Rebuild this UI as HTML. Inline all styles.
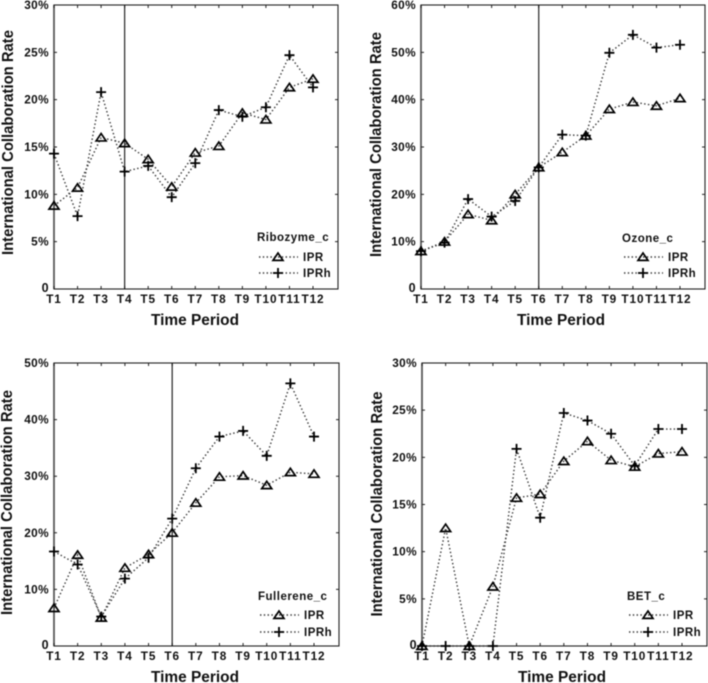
<!DOCTYPE html>
<html lang="en">
<head>
<meta charset="utf-8">
<title>International Collaboration Rate charts</title>
<style>
html,body{margin:0;padding:0;background:#fff;width:708px;height:683px;overflow:hidden}
svg{display:block;filter:blur(.4px)}
text{font-family:"Liberation Sans",sans-serif;font-weight:bold;fill:#111}
</style>
</head>
<body>
<svg id="figure" width="708" height="683" viewBox="0 0 708 683" xmlns="http://www.w3.org/2000/svg"></svg>
<script>
const periods = ["T1","T2","T3","T4","T5","T6","T7","T8","T9","T10","T11","T12"];

const ribozymeIPR  = [8.8,10.7,16,15.4,13.7,10.8,14.4,15.1,18.6,17.9,21.3,22.2];
const ribozymeIPRh = [14.3,7.7,20.8,12.4,13,9.7,13.3,18.9,18.2,19.2,24.7,21.3];
const ribozymeTicks = [0,5,10,15,20,25,30];

const ozoneIPR  = [8,10,15.8,14.5,20,25.7,28.9,32.4,38,39.5,38.7,40.3];
const ozoneIPRh = [8,9.8,19,15.3,18.6,25.7,32.6,32.4,49.9,53.7,51,51.6];
const ozoneTicks = [0,10,20,30,40,50,60];

const fullereneIPR  = [6.7,16.1,5,13.8,16.2,20,25.3,29.9,30.1,28.4,30.7,30.4];
const fullereneIPRh = [16.7,14.4,5.2,11.9,15.6,22.5,31.4,37,38,33.6,46.4,37];
const fullereneTicks = [0,10,20,30,40,50];

const betIPR  = [0,12.5,0,6.3,15.7,16.1,19.6,21.7,19.7,19,20.4,20.6];
const betIPRh = [0,0,0,0,20.9,13.6,24.7,23.9,22.5,19.1,23,23];
const betTicks = [0,5,10,15,20,25,30];

const panels = [
  {name:"ribozyme", title:"Ribozyme_c", ipr:ribozymeIPR, iprh:ribozymeIPRh, ticks:ribozymeTicks, split:3,
   left:54, right:338, top:5, bottom:289, x0:54, x11:313, titleX:13, titleMid:142.5, xTitleX:195, xTitleY:325,
   legX:257, legY:241, row1:257, row2:273},
  {name:"ozone", title:"Ozone_c", ipr:ozoneIPR, iprh:ozoneIPRh, ticks:ozoneTicks, split:5,
   left:421, right:705, top:5, bottom:289, x0:421, x11:680, titleX:381, titleMid:144.5, xTitleX:561, xTitleY:325,
   legX:622, legY:242, row1:257, row2:273},
  {name:"fullerene", title:"Fullerene_c", ipr:fullereneIPR, iprh:fullereneIPRh, ticks:fullereneTicks, split:5,
   left:54, right:339, top:363, bottom:646, x0:54, x11:314, titleX:12, titleMid:502.5, xTitleX:195, xTitleY:682,
   legX:258, legY:600, row1:615, row2:632},
  {name:"bet", title:"BET_c", ipr:betIPR, iprh:betIPRh, ticks:betTicks, split:null,
   left:422, right:707, top:363, bottom:646, x0:422, x11:682, titleX:382, titleMid:504, xTitleX:562, xTitleY:682,
   legX:627, legY:600, row1:615, row2:632}
];

const svg = document.getElementById("figure");
const NS = "http://www.w3.org/2000/svg";

function make(tag, attrs, parent, text){
  const el = document.createElementNS(NS, tag);
  for (const k in attrs) el.setAttribute(k, attrs[k]);
  if (text !== undefined) el.textContent = text;
  parent.appendChild(el);
  return el;
}

function triangle(cx, cy, parent, name){
  const el = make("path", {d:`M${cx-5} ${cy+3.4}L${cx} ${cy-4}L${cx+5} ${cy+3.4}Z`, fill:"none", stroke:"#000", "stroke-width":1.7}, parent);
  
  
}

function plus(cx, cy, parent, name){
  const el = make("path", {d:`M${cx-5} ${cy}H${cx+5}M${cx} ${cy-5}V${cy+5}`, fill:"none", stroke:"#000", "stroke-width":1.8}, parent);
  
  
}

function drawPanel(p){
  const g = make("g", {}, svg);
  
  

  const maxTick = p.ticks[p.ticks.length - 1];
  const xScale = i => p.x0 + (p.x11 - p.x0) * i / (periods.length - 1);
  const yScale = v => p.bottom - (p.bottom - p.top) * v / maxTick;

  const frame = make("rect", {x:p.left, y:p.top, width:p.right-p.left, height:p.bottom-p.top, fill:"none", stroke:"#222", "stroke-width":1.1}, g);
  
  

  const leftAxis = make("line", {x1:p.left, x2:p.left, y1:p.top, y2:p.bottom, stroke:"#555", "stroke-width":1.7}, g);
  
  

  periods.forEach((label, i) => {
    const x = xScale(i);
    make("path", {d:`M${x} ${p.bottom}v-3M${x} ${p.top}v3`, stroke:"#222", "stroke-width":1, fill:"none"}, g);
    const t = make("text", {x:x, y:p.bottom+14, "text-anchor":"middle", "font-size":11.8, "letter-spacing":".9"}, g, label);
    
    
  });

  p.ticks.forEach(v => {
    const y = yScale(v);
    make("path", {d:`M${p.left} ${y}h3M${p.right} ${y}h-3`, stroke:"#222", "stroke-width":1, fill:"none"}, g);
    const t = make("text", {x:p.left-5, y:y+(v === 0 ? 3 : 4), "text-anchor":"end", "font-size":v === 0 ? 12.5 : 11.8, "letter-spacing":".4"}, g, v === 0 ? "0" : v + "%");
    
    
  });

  if (p.split !== null){
    const sx = xScale(p.split);
    const line = make("line", {x1:sx, x2:sx, y1:p.top, y2:p.bottom, stroke:"#111", "stroke-width":1.1}, g);
    
    
  }

  const dots = {fill:"none", stroke:"#333", "stroke-width":1.4, "stroke-dasharray":"1.4 2.4"};

  const pathFor = vals => vals.map((v, i) => (i ? "L" : "M") + xScale(i) + " " + yScale(v)).join("");

  const iprLine = make("path", Object.assign({d:pathFor(p.ipr)}, dots), g);
  
  
  const iprhLine = make("path", Object.assign({d:pathFor(p.iprh)}, dots), g);
  
  

  p.ipr.forEach((v, i) => triangle(xScale(i), yScale(v), g, p.name + '-ipr-point'));
  p.iprh.forEach((v, i) => plus(xScale(i), yScale(v), g, p.name + '-iprh-point'));

  const yt = make("text", {transform:`translate(${p.titleX} ${p.titleMid}) rotate(-90)`, "text-anchor":"middle", "font-size":15.5, textLength:225, lengthAdjust:"spacingAndGlyphs"}, g, "International Collaboration Rate");
  
  

  const xt = make("text", {x:p.xTitleX, y:p.xTitleY, "text-anchor":"middle", "font-size":15.5, textLength:88, lengthAdjust:"spacingAndGlyphs"}, g, "Time Period");
  
  

  const legend = make("g", {}, g);
  
  

  const lt = make("text", {x:p.legX, y:p.legY, "font-size":11.5, "letter-spacing":".5"}, legend, p.title);
  
  

  const lx = p.legX + 2;
  const e1 = make("path", Object.assign({d:`M${lx} ${p.row1}h39`}, dots), legend);
  
  
  triangle(lx + 19, p.row1, legend, p.name + '-legend-ipr-marker');
  const t1 = make("text", {x:lx+44, y:p.row1+4, "font-size":11.5, "letter-spacing":".5"}, legend, "IPR");
  
  

  const e2 = make("path", Object.assign({d:`M${lx} ${p.row2}h39`}, dots), legend);
  
  
  plus(lx + 19, p.row2, legend, p.name + '-legend-iprh-marker');
  const t2 = make("text", {x:lx+44, y:p.row2+4, "font-size":11.5, "letter-spacing":".5"}, legend, "IPRh");
  
  
}

panels.forEach(drawPanel);
</script>
</body>
</html>
